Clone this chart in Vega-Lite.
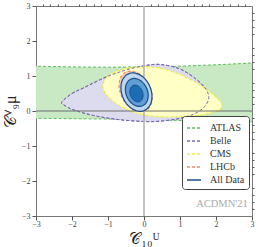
{
  "$schema": "https://vega.github.io/schema/vega-lite/v6.json",
  "width": 216,
  "height": 210,
  "autosize": {"type": "none"},
  "padding": {"left": 36, "top": 6, "right": 6, "bottom": 31},
  "config": {
    "view": {"stroke": "#777777", "strokeWidth": 1},
    "font": "Liberation Serif",
    "axis": {"domain": false, "grid": false, "labelFont": "Liberation Serif", "labelFontSize": 8.5, "labelColor": "#444444", "tickColor": "#555555", "titleFont": "Liberation Serif", "titleFontWeight": "normal", "titleColor": "#222222", "titleFontSize": 16},
    "legend": {"labelFont": "Liberation Serif", "labelFontSize": 10, "labelColor": "#333333", "fillColor": "white", "strokeColor": "#444444", "cornerRadius": 3, "padding": 4, "rowPadding": -2, "symbolSize": 196, "symbolStrokeWidth": 1.3, "labelOffset": 8}
  },
  "resolve": {"axis": {"x": "independent", "y": "independent"}},
  "datasets": {
    "sh": [
      {"id": "atlas", "s": "ATLAS", "i": 0, "x": -3.5, "y": 1.28},
      {"id": "atlas", "s": "ATLAS", "i": 1, "x": -3, "y": 1.28},
      {"id": "atlas", "s": "ATLAS", "i": 2, "x": -2, "y": 1.26},
      {"id": "atlas", "s": "ATLAS", "i": 3, "x": -1, "y": 1.25},
      {"id": "atlas", "s": "ATLAS", "i": 4, "x": 0, "y": 1.26},
      {"id": "atlas", "s": "ATLAS", "i": 5, "x": 1, "y": 1.28},
      {"id": "atlas", "s": "ATLAS", "i": 6, "x": 2, "y": 1.32},
      {"id": "atlas", "s": "ATLAS", "i": 7, "x": 3, "y": 1.37},
      {"id": "atlas", "s": "ATLAS", "i": 8, "x": 3.5, "y": 1.38},
      {"id": "atlas", "s": "ATLAS", "i": 9, "x": 3.5, "y": -0.32},
      {"id": "atlas", "s": "ATLAS", "i": 10, "x": 3, "y": -0.31},
      {"id": "atlas", "s": "ATLAS", "i": 11, "x": 2, "y": -0.29},
      {"id": "atlas", "s": "ATLAS", "i": 12, "x": 1, "y": -0.27},
      {"id": "atlas", "s": "ATLAS", "i": 13, "x": 0, "y": -0.25},
      {"id": "atlas", "s": "ATLAS", "i": 14, "x": -1, "y": -0.23},
      {"id": "atlas", "s": "ATLAS", "i": 15, "x": -2, "y": -0.22},
      {"id": "atlas", "s": "ATLAS", "i": 16, "x": -3, "y": -0.21},
      {"id": "atlas", "s": "ATLAS", "i": 17, "x": -3.5, "y": -0.2},

      {"id": "belle", "s": "Belle", "i": 0, "x": -2.28, "y": 0.26},
      {"id": "belle", "s": "Belle", "i": 1, "x": -2.0, "y": 0.5},
      {"id": "belle", "s": "Belle", "i": 2, "x": -1.68, "y": 0.66},
      {"id": "belle", "s": "Belle", "i": 3, "x": -1.12, "y": 0.94},
      {"id": "belle", "s": "Belle", "i": 4, "x": -0.57, "y": 1.15},
      {"id": "belle", "s": "Belle", "i": 5, "x": -0.01, "y": 1.29},
      {"id": "belle", "s": "Belle", "i": 6, "x": 0.45, "y": 1.33},
      {"id": "belle", "s": "Belle", "i": 7, "x": 1.0, "y": 1.2},
      {"id": "belle", "s": "Belle", "i": 8, "x": 1.46, "y": 0.9},
      {"id": "belle", "s": "Belle", "i": 9, "x": 1.72, "y": 0.62},
      {"id": "belle", "s": "Belle", "i": 10, "x": 1.8, "y": 0.38},
      {"id": "belle", "s": "Belle", "i": 11, "x": 1.68, "y": 0.12},
      {"id": "belle", "s": "Belle", "i": 12, "x": 1.4, "y": -0.08},
      {"id": "belle", "s": "Belle", "i": 13, "x": 1.0, "y": -0.21},
      {"id": "belle", "s": "Belle", "i": 14, "x": 0.45, "y": -0.29},
      {"id": "belle", "s": "Belle", "i": 15, "x": -0.01, "y": -0.3},
      {"id": "belle", "s": "Belle", "i": 16, "x": -0.75, "y": -0.24},
      {"id": "belle", "s": "Belle", "i": 17, "x": -1.4, "y": -0.13},
      {"id": "belle", "s": "Belle", "i": 18, "x": -1.95, "y": 0.03},
      {"id": "belle", "s": "Belle", "i": 19, "x": -2.22, "y": 0.17},

      {"id": "cms", "s": "CMS", "i": 0, "x": -1.14, "y": 0.73},
      {"id": "cms", "s": "CMS", "i": 1, "x": -1.0, "y": 1.0},
      {"id": "cms", "s": "CMS", "i": 2, "x": -0.6, "y": 1.19},
      {"id": "cms", "s": "CMS", "i": 3, "x": -0.11, "y": 1.26},
      {"id": "cms", "s": "CMS", "i": 4, "x": 0.35, "y": 1.24},
      {"id": "cms", "s": "CMS", "i": 5, "x": 0.91, "y": 1.08},
      {"id": "cms", "s": "CMS", "i": 6, "x": 1.46, "y": 0.8},
      {"id": "cms", "s": "CMS", "i": 7, "x": 1.93, "y": 0.46},
      {"id": "cms", "s": "CMS", "i": 8, "x": 2.15, "y": 0.22},
      {"id": "cms", "s": "CMS", "i": 9, "x": 2.12, "y": 0.05},
      {"id": "cms", "s": "CMS", "i": 10, "x": 1.85, "y": -0.06},
      {"id": "cms", "s": "CMS", "i": 11, "x": 1.46, "y": -0.13},
      {"id": "cms", "s": "CMS", "i": 12, "x": 0.82, "y": -0.17},
      {"id": "cms", "s": "CMS", "i": 13, "x": 0.26, "y": -0.15},
      {"id": "cms", "s": "CMS", "i": 14, "x": -0.29, "y": -0.03},
      {"id": "cms", "s": "CMS", "i": 15, "x": -0.75, "y": 0.2},
      {"id": "cms", "s": "CMS", "i": 16, "x": -1.05, "y": 0.47},

      {"id": "lhcb", "s": "LHCb", "i": 0, "x": 0.21, "y": 0.56},
      {"id": "lhcb", "s": "LHCb", "i": 1, "x": 0.081, "y": 0.85},
      {"id": "lhcb", "s": "LHCb", "i": 2, "x": -0.131, "y": 1.062},
      {"id": "lhcb", "s": "LHCb", "i": 3, "x": -0.37, "y": 1.14},
      {"id": "lhcb", "s": "LHCb", "i": 4, "x": -0.571, "y": 1.062},
      {"id": "lhcb", "s": "LHCb", "i": 5, "x": -0.681, "y": 0.85},
      {"id": "lhcb", "s": "LHCb", "i": 6, "x": -0.67, "y": 0.56},
      {"id": "lhcb", "s": "LHCb", "i": 7, "x": -0.541, "y": 0.27},
      {"id": "lhcb", "s": "LHCb", "i": 8, "x": -0.329, "y": 0.058},
      {"id": "lhcb", "s": "LHCb", "i": 9, "x": -0.09, "y": -0.02},
      {"id": "lhcb", "s": "LHCb", "i": 10, "x": 0.111, "y": 0.058},
      {"id": "lhcb", "s": "LHCb", "i": 11, "x": 0.221, "y": 0.27},

      {"id": "all3", "s": "All Data", "i": 0, "x": 0.21, "y": 0.54},
      {"id": "all3", "s": "All Data", "i": 1, "x": 0.104, "y": 0.815},
      {"id": "all3", "s": "All Data", "i": 2, "x": -0.087, "y": 1.016},
      {"id": "all3", "s": "All Data", "i": 3, "x": -0.31, "y": 1.09},
      {"id": "all3", "s": "All Data", "i": 4, "x": -0.507, "y": 1.016},
      {"id": "all3", "s": "All Data", "i": 5, "x": -0.624, "y": 0.815},
      {"id": "all3", "s": "All Data", "i": 6, "x": -0.63, "y": 0.54},
      {"id": "all3", "s": "All Data", "i": 7, "x": -0.524, "y": 0.265},
      {"id": "all3", "s": "All Data", "i": 8, "x": -0.333, "y": 0.064},
      {"id": "all3", "s": "All Data", "i": 9, "x": -0.11, "y": -0.01},
      {"id": "all3", "s": "All Data", "i": 10, "x": 0.087, "y": 0.064},
      {"id": "all3", "s": "All Data", "i": 11, "x": 0.204, "y": 0.265},

      {"id": "all2", "s": "All Data", "i": 0, "x": 0.11, "y": 0.53},
      {"id": "all2", "s": "All Data", "i": 1, "x": 0.033, "y": 0.73},
      {"id": "all2", "s": "All Data", "i": 2, "x": -0.106, "y": 0.876},
      {"id": "all2", "s": "All Data", "i": 3, "x": -0.27, "y": 0.93},
      {"id": "all2", "s": "All Data", "i": 4, "x": -0.416, "y": 0.876},
      {"id": "all2", "s": "All Data", "i": 5, "x": -0.503, "y": 0.73},
      {"id": "all2", "s": "All Data", "i": 6, "x": -0.51, "y": 0.53},
      {"id": "all2", "s": "All Data", "i": 7, "x": -0.433, "y": 0.33},
      {"id": "all2", "s": "All Data", "i": 8, "x": -0.294, "y": 0.184},
      {"id": "all2", "s": "All Data", "i": 9, "x": -0.13, "y": 0.13},
      {"id": "all2", "s": "All Data", "i": 10, "x": 0.016, "y": 0.184},
      {"id": "all2", "s": "All Data", "i": 11, "x": 0.103, "y": 0.33},

      {"id": "all1", "s": "All Data", "i": 0, "x": -0.03, "y": 0.5},
      {"id": "all1", "s": "All Data", "i": 1, "x": -0.074, "y": 0.62},
      {"id": "all1", "s": "All Data", "i": 2, "x": -0.155, "y": 0.708},
      {"id": "all1", "s": "All Data", "i": 3, "x": -0.25, "y": 0.74},
      {"id": "all1", "s": "All Data", "i": 4, "x": -0.335, "y": 0.708},
      {"id": "all1", "s": "All Data", "i": 5, "x": -0.386, "y": 0.62},
      {"id": "all1", "s": "All Data", "i": 6, "x": -0.39, "y": 0.5},
      {"id": "all1", "s": "All Data", "i": 7, "x": -0.346, "y": 0.38},
      {"id": "all1", "s": "All Data", "i": 8, "x": -0.265, "y": 0.292},
      {"id": "all1", "s": "All Data", "i": 9, "x": -0.17, "y": 0.26},
      {"id": "all1", "s": "All Data", "i": 10, "x": -0.085, "y": 0.292},
      {"id": "all1", "s": "All Data", "i": 11, "x": -0.034, "y": 0.38}
    ]
  },
  "data": {"name": "sh"},
  "layer": [
    {
      "transform": [{"filter": "datum.id === 'atlas'"}],
      "mark": {"type": "line", "interpolate": "linear-closed", "fill": "#c9e8c4", "strokeWidth": 1, "clip": true},
      "encoding": {
        "x": {"field": "x", "type": "quantitative", "scale": {"domain": [-3, 3], "nice": false, "zero": false},
          "axis": {"title": "𝒞₁₀ᵁ", "values": [-3, -2, -1, 0, 1, 2, 3], "format": "d", "tickSize": 4, "labelFontSize": 8, "labelFlush": false, "labelOverlap": false, "labelPadding": 0, "titlePadding": 2}},
        "y": {"field": "y", "type": "quantitative", "scale": {"domain": [-3, 3], "nice": false, "zero": false},
          "axis": {"title": "𝒞ⱽ₉μ", "values": [-3, -2, -1, 0, 1, 2, 3], "format": "d", "tickSize": 4, "labelFontSize": 8, "labelFlush": false, "labelOverlap": false, "labelPadding": 2, "titlePadding": 3}},
        "order": {"field": "i", "type": "quantitative"},
        "stroke": {"field": "s", "type": "nominal", "scale": {"domain": ["ATLAS", "Belle", "CMS", "LHCb", "All Data"], "range": ["#5cbf5c", "#7a6ab4", "#f2ef3a", "#f28a6a", "#1f4e8c"]}, "legend": {"title": null, "orient": "none", "legendX": 146, "legendY": 110}},
        "strokeDash": {"field": "s", "type": "nominal", "scale": {"domain": ["ATLAS", "Belle", "CMS", "LHCb", "All Data"], "range": [[3, 2], [3, 2], [3, 2], [3, 2], [1, 0]]}, "legend": {"title": null, "orient": "none", "legendX": 146, "legendY": 110}}
      }
    },
    {
      "transform": [{"filter": "datum.id === 'belle'"}],
      "mark": {"type": "line", "interpolate": "cardinal-closed", "fill": "#dcdcee", "strokeWidth": 1},
      "encoding": {
        "x": {"field": "x", "type": "quantitative", "axis": null},
        "y": {"field": "y", "type": "quantitative", "axis": null},
        "order": {"field": "i", "type": "quantitative"},
        "stroke": {"field": "s", "type": "nominal"},
        "strokeDash": {"field": "s", "type": "nominal"}
      }
    },
    {
      "transform": [{"filter": "datum.id === 'cms'"}],
      "mark": {"type": "line", "interpolate": "cardinal-closed", "fill": "#ffffc6", "strokeWidth": 1.2},
      "encoding": {
        "x": {"field": "x", "type": "quantitative", "axis": null},
        "y": {"field": "y", "type": "quantitative", "axis": null},
        "order": {"field": "i", "type": "quantitative"},
        "stroke": {"field": "s", "type": "nominal"},
        "strokeDash": {"field": "s", "type": "nominal"}
      }
    },
    {
      "transform": [{"filter": "datum.id === 'belle'"}],
      "mark": {"type": "line", "interpolate": "cardinal-closed", "strokeWidth": 1},
      "encoding": {
        "x": {"field": "x", "type": "quantitative", "axis": null},
        "y": {"field": "y", "type": "quantitative", "axis": null},
        "order": {"field": "i", "type": "quantitative"},
        "stroke": {"field": "s", "type": "nominal"},
        "strokeDash": {"field": "s", "type": "nominal"}
      }
    },
    {
      "data": {"values": [{"x": 0}]},
      "mark": {"type": "rule", "color": "#b4b4b4", "strokeWidth": 1.6},
      "encoding": {"x": {"field": "x", "type": "quantitative", "axis": {"title": null, "values": [-2.8, -2.6, -2.4, -2.2, -1.8, -1.6, -1.4, -1.2, -0.8, -0.6, -0.4, -0.2, 0.2, 0.4, 0.6, 0.8, 1.2, 1.4, 1.6, 1.8, 2.2, 2.4, 2.6, 2.8], "labels": false, "tickSize": 2}}}
    },
    {
      "data": {"values": [{"y": 0}]},
      "mark": {"type": "rule", "color": "#6e6e6e", "strokeWidth": 1.2},
      "encoding": {"y": {"field": "y", "type": "quantitative", "axis": {"title": null, "values": [-2.8, -2.6, -2.4, -2.2, -1.8, -1.6, -1.4, -1.2, -0.8, -0.6, -0.4, -0.2, 0.2, 0.4, 0.6, 0.8, 1.2, 1.4, 1.6, 1.8, 2.2, 2.4, 2.6, 2.8], "labels": false, "tickSize": 2}}}
    },
    {
      "transform": [{"filter": "datum.id === 'lhcb'"}],
      "mark": {"type": "line", "interpolate": "cardinal-closed", "fill": "#f9cdb6", "strokeWidth": 1.2},
      "encoding": {
        "x": {"field": "x", "type": "quantitative", "axis": null},
        "y": {"field": "y", "type": "quantitative", "axis": null},
        "order": {"field": "i", "type": "quantitative"},
        "stroke": {"field": "s", "type": "nominal"},
        "strokeDash": {"field": "s", "type": "nominal"}
      }
    },
    {
      "transform": [{"filter": "datum.id === 'all3'"}],
      "mark": {"type": "line", "interpolate": "cardinal-closed", "fill": "#bcd7ef", "strokeWidth": 1.2},
      "encoding": {
        "x": {"field": "x", "type": "quantitative", "axis": null},
        "y": {"field": "y", "type": "quantitative", "axis": null},
        "order": {"field": "i", "type": "quantitative"},
        "stroke": {"field": "s", "type": "nominal"},
        "strokeDash": {"field": "s", "type": "nominal"}
      }
    },
    {
      "transform": [{"filter": "datum.id === 'all2'"}],
      "mark": {"type": "line", "interpolate": "cardinal-closed", "fill": "#5e9fd6", "strokeWidth": 1.2},
      "encoding": {
        "x": {"field": "x", "type": "quantitative", "axis": null},
        "y": {"field": "y", "type": "quantitative", "axis": null},
        "order": {"field": "i", "type": "quantitative"},
        "stroke": {"field": "s", "type": "nominal"},
        "strokeDash": {"field": "s", "type": "nominal"}
      }
    },
    {
      "transform": [{"filter": "datum.id === 'all1'"}],
      "mark": {"type": "line", "interpolate": "cardinal-closed", "fill": "#1d6db4", "strokeWidth": 1},
      "encoding": {
        "x": {"field": "x", "type": "quantitative", "axis": null},
        "y": {"field": "y", "type": "quantitative", "axis": null},
        "order": {"field": "i", "type": "quantitative"},
        "stroke": {"field": "s", "type": "nominal"},
        "strokeDash": {"field": "s", "type": "nominal"}
      }
    },
    {
      "data": {"values": [{"x": 2.88, "y": -2.66, "t": "ACDMN'21"}]},
      "mark": {"type": "text", "align": "right", "baseline": "middle", "font": "Liberation Serif", "fontSize": 10.5, "color": "#aaaaaa"},
      "encoding": {
        "x": {"field": "x", "type": "quantitative", "axis": null},
        "y": {"field": "y", "type": "quantitative", "axis": null},
        "text": {"field": "t", "type": "nominal"}
      }
    }
  ]
}
